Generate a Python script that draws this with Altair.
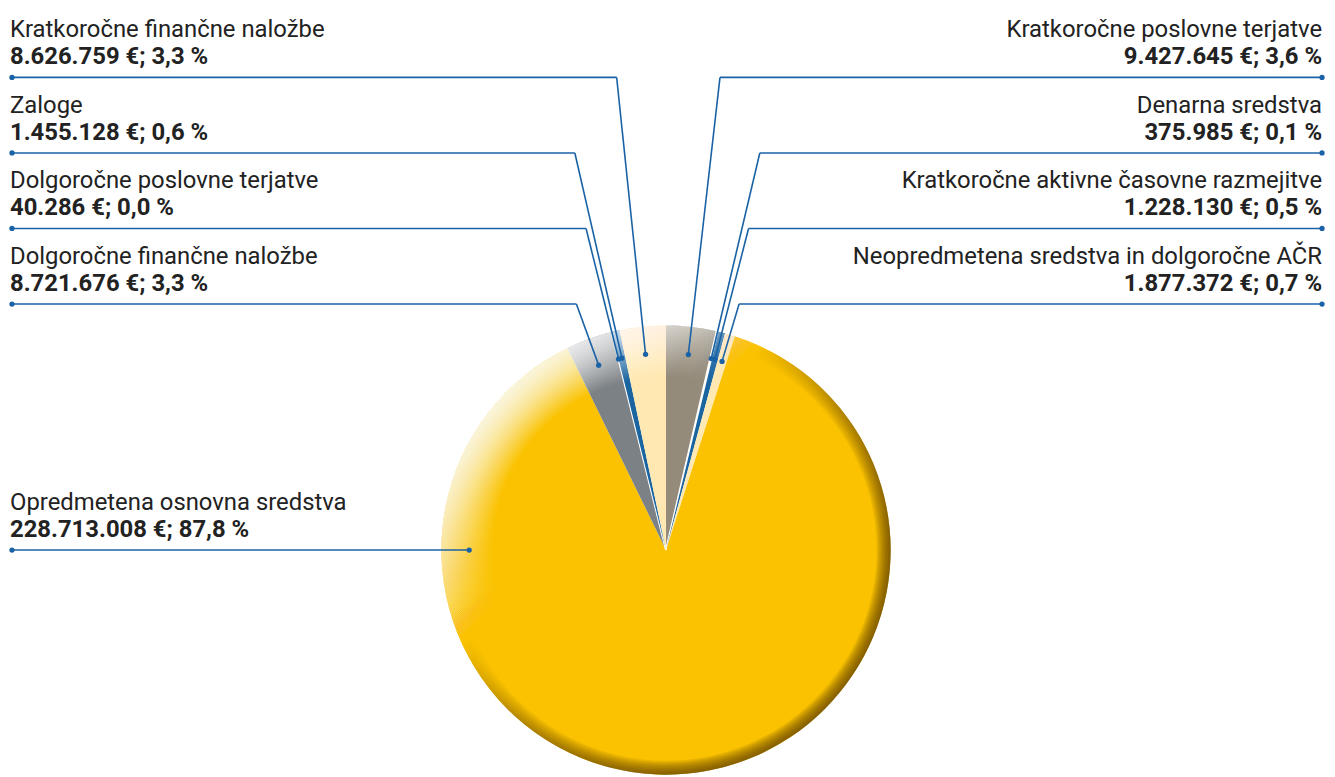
import math
import altair as alt
import pandas as pd

# ---- data (clockwise from 12 o'clock) ----
names = [
    "Kratkoročne poslovne terjatve",
    "Denarna sredstva",
    "Kratkoročne aktivne časovne razmejitve",
    "Neopredmetena sredstva in dolgoročne AČR",
    "Opredmetena osnovna sredstva",
    "Dolgoročne finančne naložbe",
    "Dolgoročne poslovne terjatve",
    "Zaloge",
    "Kratkoročne finančne naložbe",
]
values = [9427645, 375985, 1228130, 1877372, 228713008, 8721676, 40286, 1455128, 8626759]
value_labels = [
    "9.427.645 €; 3,6 %",
    "375.985 €; 0,1 %",
    "1.228.130 €; 0,5 %",
    "1.877.372 €; 0,7 %",
    "228.713.008 €; 87,8 %",
    "8.721.676 €; 3,3 %",
    "40.286 €; 0,0 %",
    "1.455.128 €; 0,6 %",
    "8.626.759 €; 3,3 %",
]

# ---- styles ----
slice_colors = ["#948B7B", "#FFFFFF", "#1A64A0", "#FFE8B2", "#FAC200",
                "#7C8185", "#FFFFFF", "#1A64A0", "#FFE8B2"]
BLUE = "#1A62A6"
TEXT = "#222222"
FONT = "Roboto"
FS = 24

# ---- layout (chart pixel coordinates) ----
W, H = 1327, 769
CX, CY, R = 662, 543, 226
DOT_R = 198
ROW_TOP, ROW_STEP = 67.5, 76
LEFT_X, RIGHT_X = 4, 1322

df = pd.DataFrame({"name": names, "value": values, "label": value_labels,
                   "order": list(range(len(names)))})

# pie
pie = alt.Chart(df).mark_arc(outerRadius=R, stroke="white").encode(
    theta=alt.Theta("value:Q", stack=True),
    order=alt.Order("order:Q"),
    color=alt.Color("name:N", scale=alt.Scale(domain=names, range=slice_colors), legend=None),
    strokeWidth=alt.condition(
        alt.FieldOneOfPredicate(field="name", oneOf=[names[1], names[6]]),
        alt.value(2), alt.value(0)),
    x=alt.value(CX), y=alt.value(CY),
)

# bevel overlays (many thin overlapping rings -> smooth falloff)
one = pd.DataFrame({"k": [0]})
layers_overlay = []


def ring(r_in, grad):
    return alt.Chart(one).mark_arc(outerRadius=R, innerRadius=r_in, theta=0,
                                   theta2=2 * math.pi, fill=grad, strokeWidth=0
                                   ).encode(x=alt.value(CX), y=alt.value(CY))


n_hl = 24
for i in range(n_hl):
    r_in = 175 + i * (224 - 175) / (n_hl - 1)
    a = 0.08
    g = alt.LinearGradient(
        gradient="linear",
        stops=[alt.GradientStop(color=f"rgba(255,255,255,{a})", offset=0),
               alt.GradientStop(color=f"rgba(255,255,255,{a*0.55:.4f})", offset=0.13),
               alt.GradientStop(color="rgba(255,255,255,0)", offset=0.32),
               alt.GradientStop(color="rgba(255,255,255,0)", offset=1)],
        x1=0.15, y1=0.15, x2=0.85, y2=0.85)
    layers_overlay.append(ring(r_in, g))

n_dk = 10
for i in range(n_dk):
    r_in = 212 + i * (225 - 212) / (n_dk - 1)
    a = 0.11
    g = alt.LinearGradient(
        gradient="linear",
        stops=[alt.GradientStop(color="rgba(80,50,0,0)", offset=0),
               alt.GradientStop(color="rgba(80,50,0,0)", offset=0.32),
               alt.GradientStop(color=f"rgba(80,50,0,{a*0.5:.4f})", offset=0.55),
               alt.GradientStop(color=f"rgba(80,50,0,{a})", offset=0.85),
               alt.GradientStop(color=f"rgba(80,50,0,{a})", offset=1)],
        x1=0.15, y1=0.15, x2=0.85, y2=0.85)
    layers_overlay.append(ring(r_in, g))

# label geometry derived from data
base = alt.Chart(df).transform_joinaggregate(
    total="sum(value)"
).transform_window(
    cum="sum(value)", sort=[alt.SortField("order")], frame=[None, 0]
).transform_calculate(
    frac="datum.value / datum.total",
    mid="2*PI*(datum.cum - datum.value/2)/datum.total",
).transform_calculate(
    a="datum.frac > 0.5 ? 1.5*PI : datum.mid"
).transform_calculate(
    side="sin(datum.a) < 0 ? 'L' : 'R'",
    key="sin(datum.a) < 0 ? 2*PI - datum.a : datum.a",
    px=f"{CX} + {DOT_R}*sin(datum.a)",
    py=f"{CY} - {DOT_R}*cos(datum.a)",
).transform_window(
    rank="row_number()", groupby=["side"], sort=[alt.SortField("key")]
).transform_calculate(
    ry=f"datum.frac > 0.5 ? {CY} : {ROW_TOP} + (datum.rank-1)*{ROW_STEP}"
).transform_calculate(
    bx=f"datum.frac > 0.5 ? datum.px : {CX} + ({CY} - datum.ry)*tan(datum.a)",
    ex=f"datum.side == 'L' ? {LEFT_X} : {RIGHT_X}",
)

hline = base.mark_rule(color=BLUE, strokeWidth=1.6).encode(
    x=alt.X("ex:Q", scale=None, axis=None), x2="bx:Q",
    y=alt.Y("ry:Q", scale=None, axis=None))
dline = base.mark_rule(color=BLUE, strokeWidth=1.6).encode(
    x=alt.X("bx:Q", scale=None, axis=None), x2="px:Q",
    y=alt.Y("ry:Q", scale=None, axis=None), y2="py:Q")
dot1 = base.mark_circle(color=BLUE, opacity=1, size=28).encode(
    x=alt.X("px:Q", scale=None, axis=None), y=alt.Y("py:Q", scale=None, axis=None))
dot2 = base.mark_circle(color=BLUE, opacity=1, size=28).encode(
    x=alt.X("ex:Q", scale=None, axis=None), y=alt.Y("ry:Q", scale=None, axis=None))

texts = []
for side, align, dx in [("L", "left", -2), ("R", "right", 0)]:
    sb = base.transform_filter(f"datum.side == '{side}'")
    texts.append(sb.mark_text(align=align, baseline="alphabetic", font=FONT,
                              fontSize=FS, color=TEXT, dx=dx, dy=-40.5).encode(
        x=alt.X("ex:Q", scale=None, axis=None), y=alt.Y("ry:Q", scale=None, axis=None),
        text="name:N"))
    texts.append(sb.mark_text(align=align, baseline="alphabetic", font=FONT,
                              fontSize=FS, fontWeight="bold", color=TEXT, dx=dx, dy=-13.5).encode(
        x=alt.X("ex:Q", scale=None, axis=None), y=alt.Y("ry:Q", scale=None, axis=None),
        text="label:N"))

chart = alt.layer(pie, *layers_overlay, hline, dline, dot1, dot2, *texts).properties(
    width=W, height=H, padding=0, autosize="none", background="white"
).configure_view(stroke=None)

chart.save("out.html", embed_options={"renderer": "svg", "actions": False})
